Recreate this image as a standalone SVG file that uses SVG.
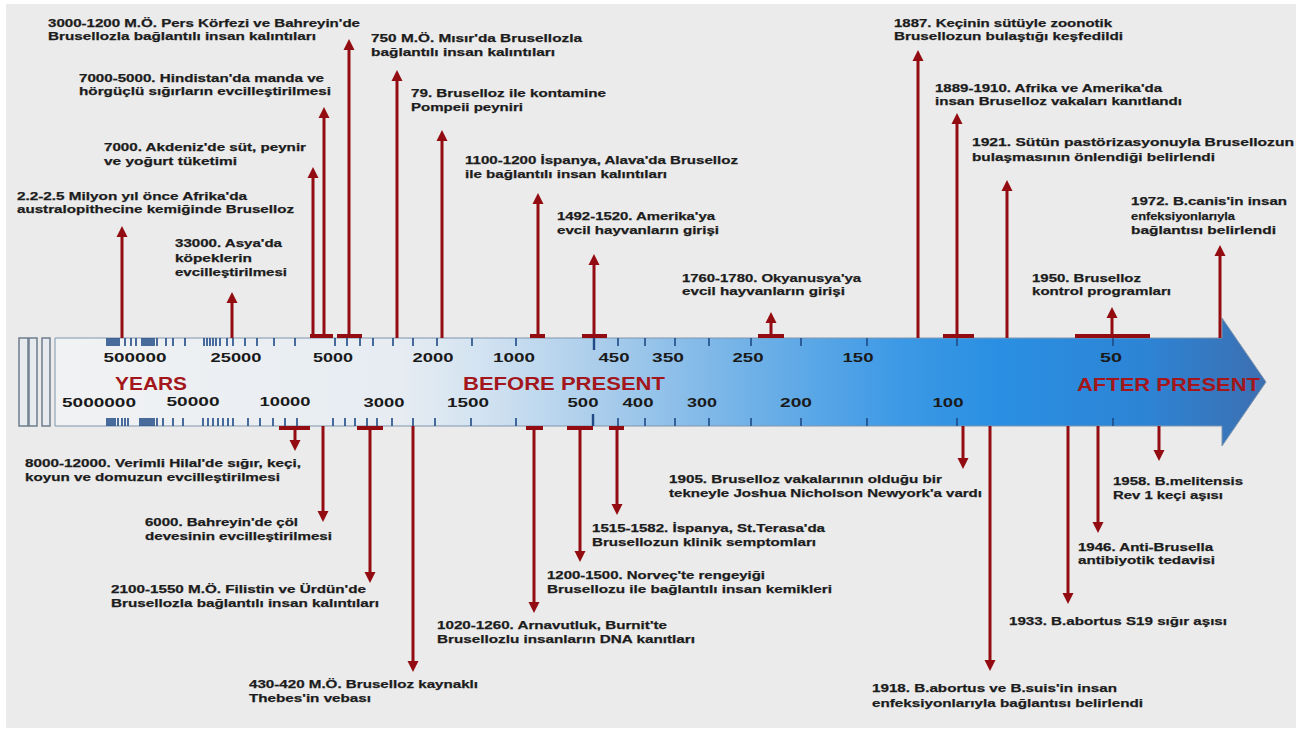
<svg xmlns="http://www.w3.org/2000/svg" width="1300" height="731" viewBox="0 0 1300 731">
<defs>
<style>
.lbl{font-family:"Liberation Sans",Arial,sans-serif;font-weight:bold;font-size:11.6px;fill:#1c1c1c;stroke:#1c1c1c;stroke-width:0.25}
.num{font-family:"Liberation Sans",Arial,sans-serif;font-weight:bold;font-size:12.8px;fill:#1a1a1a;text-anchor:middle}
.big{font-family:"Liberation Sans",Arial,sans-serif;font-weight:bold;font-size:18px;fill:#a3161c}
.arr{stroke:#930c11;stroke-width:3;fill:none;marker-end:url(#ah)}
.tb{stroke:#930c11;stroke-width:4}
.tick{stroke:#1f4a86;stroke-width:1.6}
.sr{fill:#e8ebee;stroke:#6d7d8d;stroke-width:1.5}
</style>
<linearGradient id="barg" gradientUnits="userSpaceOnUse" x1="55" y1="0" x2="1266" y2="0">
<stop offset="0" stop-color="#f1f2f3"/>
<stop offset="0.285" stop-color="#e6ecf2"/>
<stop offset="0.35" stop-color="#d3e3f1"/>
<stop offset="0.45" stop-color="#aacdeb"/>
<stop offset="0.574" stop-color="#70b1e7"/>
<stop offset="0.698" stop-color="#3c99e5"/>
<stop offset="0.78" stop-color="#2a8fe2"/>
<stop offset="0.9" stop-color="#2d84d5"/>
<stop offset="1" stop-color="#3d6fb0"/>
</linearGradient>
<marker id="ah" markerUnits="userSpaceOnUse" markerWidth="12" markerHeight="12" viewBox="0 0 12 12" refX="4" refY="6" orient="auto">
<path d="M0,0.5 L11,6 L0,11.5 z" fill="#930c11"/>
</marker>
</defs>
<rect x="0" y="0" width="1300" height="731" fill="#ffffff"/>
<rect x="6" y="4" width="1290" height="724" fill="#ebebeb"/>

<g id="timeline">
<rect class="sr" x="19" y="338" width="9" height="88"/>
<rect class="sr" x="29" y="338" width="8" height="88"/>
<rect class="sr" x="42" y="338" width="8" height="88"/>
<polygon points="55,338 1222,338 1222,318 1266,382 1222,446 1222,426 55,426" fill="url(#barg)" stroke="#7f95ad" stroke-width="1"/>
<g id="ticks-top" class="tick">
<path d="M107,338v8M109,338v8M111,338v8M113,338v8M115,338v8M117,338v8M119,338v8M125,338v8M131,338v8M136,338v8M142,338v8M144,338v8M146,338v8M148,338v8M150,338v8M152,338v8M154,338v8M157,338v8M166,338v8M173,338v8M185,338v8M204,338v8M207,338v8M210,338v8M213,338v8M216,338v8M220,338v8M227,338v8M233,338v8M245,338v8M257,338v8M274,338v8M295,338v8M335,338v8M347,338v8M360,338v8M373,338v8M393,338v8M413,338v8M437,338v8M472,338v8M516,338v8M618,338v8M645,338v8M675,338v8M709,338v8M751,338v8M801,338v8M867,338v8M957,338v8M1113,338v8"/>
<path d="M594,338v12" stroke-width="2.4"/>
</g>
<g id="ticks-bottom" class="tick">
<path d="M107,426v-8M109,426v-8M111,426v-8M113,426v-8M115,426v-8M118,426v-8M122,426v-8M125,426v-8M128,426v-8M140,426v-8M142,426v-8M144,426v-8M146,426v-8M148,426v-8M150,426v-8M152,426v-8M154,426v-8M157,426v-8M163,426v-8M173,426v-8M183,426v-8M203,426v-8M208,426v-8M213,426v-8M218,426v-8M223,426v-8M228,426v-8M233,426v-8M248,426v-8M260,426v-8M273,426v-8M285,426v-8M297,426v-8M333,426v-8M345,426v-8M355,426v-8M367,426v-8M377,426v-8M392,426v-8M413,426v-8M435,426v-8M471,426v-8M516,426v-8M618,426v-8M645,426v-8M675,426v-8M709,426v-8M751,426v-8M801,426v-8M867,426v-8M957,426v-8M1113,426v-8"/>
<path d="M593,426v-12" stroke-width="2.4"/>
</g>
<g id="scale-top">
<text class="num" x="135" y="362" textLength="63" lengthAdjust="spacingAndGlyphs">500000</text>
<text class="num" x="236" y="362" textLength="51" lengthAdjust="spacingAndGlyphs">25000</text>
<text class="num" x="333" y="362" textLength="40" lengthAdjust="spacingAndGlyphs">5000</text>
<text class="num" x="433" y="362" textLength="41" lengthAdjust="spacingAndGlyphs">2000</text>
<text class="num" x="514" y="362" textLength="42" lengthAdjust="spacingAndGlyphs">1000</text>
<text class="num" x="614" y="362" textLength="31" lengthAdjust="spacingAndGlyphs">450</text>
<text class="num" x="668" y="362" textLength="32" lengthAdjust="spacingAndGlyphs">350</text>
<text class="num" x="748" y="362" textLength="31" lengthAdjust="spacingAndGlyphs">250</text>
<text class="num" x="858" y="362" textLength="31" lengthAdjust="spacingAndGlyphs">150</text>
<text class="num" x="1111" y="362" textLength="22" lengthAdjust="spacingAndGlyphs">50</text>
</g>
<g id="scale-bottom">
<text class="num" x="99" y="407" textLength="74" lengthAdjust="spacingAndGlyphs">5000000</text>
<text class="num" x="193" y="406" textLength="53" lengthAdjust="spacingAndGlyphs">50000</text>
<text class="num" x="285" y="406" textLength="51" lengthAdjust="spacingAndGlyphs">10000</text>
<text class="num" x="384" y="407" textLength="41" lengthAdjust="spacingAndGlyphs">3000</text>
<text class="num" x="468" y="407" textLength="42" lengthAdjust="spacingAndGlyphs">1500</text>
<text class="num" x="583" y="407" textLength="31" lengthAdjust="spacingAndGlyphs">500</text>
<text class="num" x="638" y="407" textLength="31" lengthAdjust="spacingAndGlyphs">400</text>
<text class="num" x="702" y="407" textLength="30" lengthAdjust="spacingAndGlyphs">300</text>
<text class="num" x="796" y="407" textLength="32" lengthAdjust="spacingAndGlyphs">200</text>
<text class="num" x="948" y="407" textLength="31" lengthAdjust="spacingAndGlyphs">100</text>
</g>
<text class="big" x="115" y="390" textLength="72" lengthAdjust="spacingAndGlyphs">YEARS</text>
<text class="big" x="463" y="390" textLength="202" lengthAdjust="spacingAndGlyphs">BEFORE PRESENT</text>
<text class="big" x="1077" y="391" textLength="183" lengthAdjust="spacingAndGlyphs">AFTER PRESENT</text>
</g>

<g id="connectors">
<path class="tb" d="M310,336H333M337,336H362M530,336H545M582,336H607M758,336H784M943,336H974M1075,336H1150"/>
<path class="tb" d="M279,428H310M357,428H383M526,428H543M567,428H593M609,428H624"/>
<line class="arr" x1="122" y1="338" x2="122" y2="233"/>
<line class="arr" x1="232" y1="338" x2="232" y2="299"/>
<line class="arr" x1="313" y1="336" x2="313" y2="174"/>
<line class="arr" x1="324" y1="336" x2="324" y2="114"/>
<line class="arr" x1="349" y1="336" x2="349" y2="46"/>
<line class="arr" x1="397" y1="338" x2="397" y2="77"/>
<line class="arr" x1="442" y1="338" x2="442" y2="137"/>
<line class="arr" x1="538" y1="336" x2="538" y2="200"/>
<line class="arr" x1="594" y1="336" x2="594" y2="261"/>
<line class="arr" x1="771" y1="336" x2="771" y2="319"/>
<line class="arr" x1="918" y1="338" x2="918" y2="57"/>
<line class="arr" x1="957" y1="336" x2="957" y2="120"/>
<line class="arr" x1="1007" y1="338" x2="1007" y2="187"/>
<line class="arr" x1="1112" y1="336" x2="1112" y2="314"/>
<line class="arr" x1="1220" y1="338" x2="1220" y2="252"/>
<line class="arr" x1="295" y1="428" x2="295" y2="444"/>
<line class="arr" x1="323" y1="426" x2="323" y2="515"/>
<line class="arr" x1="370" y1="428" x2="370" y2="576"/>
<line class="arr" x1="413" y1="426" x2="413" y2="665"/>
<line class="arr" x1="534" y1="428" x2="534" y2="606"/>
<line class="arr" x1="580" y1="428" x2="580" y2="555"/>
<line class="arr" x1="617" y1="428" x2="617" y2="508"/>
<line class="arr" x1="963" y1="426" x2="963" y2="462"/>
<line class="arr" x1="990" y1="426" x2="990" y2="664"/>
<line class="arr" x1="1068" y1="426" x2="1068" y2="597"/>
<line class="arr" x1="1098" y1="426" x2="1098" y2="526"/>
<line class="arr" x1="1159" y1="426" x2="1159" y2="454"/>
</g>

<g id="ev-pers">
<text class="lbl" x="48" y="27" textLength="312" lengthAdjust="spacingAndGlyphs">3000-1200 M.Ö. Pers Körfezi ve Bahreyin'de</text>
<text class="lbl" x="48" y="40" textLength="268" lengthAdjust="spacingAndGlyphs">Brusellozla bağlantılı insan kalıntıları</text>
</g>
<g id="ev-misir">
<text class="lbl" x="371" y="42" textLength="211" lengthAdjust="spacingAndGlyphs">750 M.Ö. Mısır'da Brusellozla</text>
<text class="lbl" x="371" y="56" textLength="184" lengthAdjust="spacingAndGlyphs">bağlantılı insan kalıntıları</text>
</g>
<g id="ev-hindistan">
<text class="lbl" x="79" y="82" textLength="245" lengthAdjust="spacingAndGlyphs">7000-5000. Hindistan'da manda ve</text>
<text class="lbl" x="79" y="95" textLength="252" lengthAdjust="spacingAndGlyphs">hörgüçlü sığırların evcilleştirilmesi</text>
</g>
<g id="ev-pompeii">
<text class="lbl" x="411" y="97" textLength="195" lengthAdjust="spacingAndGlyphs">79. Bruselloz ile kontamine</text>
<text class="lbl" x="411" y="111" textLength="112" lengthAdjust="spacingAndGlyphs">Pompeii peyniri</text>
</g>
<g id="ev-akdeniz">
<text class="lbl" x="104" y="151" textLength="202" lengthAdjust="spacingAndGlyphs">7000. Akdeniz'de süt, peynir</text>
<text class="lbl" x="104" y="165" textLength="133" lengthAdjust="spacingAndGlyphs">ve yoğurt tüketimi</text>
</g>
<g id="ev-alava">
<text class="lbl" x="465" y="164" textLength="273" lengthAdjust="spacingAndGlyphs">1100-1200 İspanya, Alava'da Bruselloz</text>
<text class="lbl" x="465" y="178" textLength="202" lengthAdjust="spacingAndGlyphs">ile bağlantılı insan kalıntıları</text>
</g>
<g id="ev-afrika">
<text class="lbl" x="17" y="200" textLength="230" lengthAdjust="spacingAndGlyphs">2.2-2.5 Milyon yıl önce Afrika'da</text>
<text class="lbl" x="17" y="213" textLength="277" lengthAdjust="spacingAndGlyphs">australopithecine kemiğinde Bruselloz</text>
</g>
<g id="ev-amerika">
<text class="lbl" x="557" y="220" textLength="158" lengthAdjust="spacingAndGlyphs">1492-1520. Amerika'ya</text>
<text class="lbl" x="557" y="234" textLength="162" lengthAdjust="spacingAndGlyphs">evcil hayvanların girişi</text>
</g>
<g id="ev-asya">
<text class="lbl" x="175" y="247" textLength="107" lengthAdjust="spacingAndGlyphs">33000. Asya'da</text>
<text class="lbl" x="175" y="262" textLength="77" lengthAdjust="spacingAndGlyphs">köpeklerin</text>
<text class="lbl" x="175" y="276" textLength="112" lengthAdjust="spacingAndGlyphs">evcilleştirilmesi</text>
</g>
<g id="ev-okyanusya">
<text class="lbl" x="682" y="282" textLength="179" lengthAdjust="spacingAndGlyphs">1760-1780. Okyanusya'ya</text>
<text class="lbl" x="682" y="295" textLength="163" lengthAdjust="spacingAndGlyphs">evcil hayvanların girişi</text>
</g>
<g id="ev-1887">
<text class="lbl" x="894" y="27" textLength="218" lengthAdjust="spacingAndGlyphs">1887. Keçinin sütüyle zoonotik</text>
<text class="lbl" x="894" y="40" textLength="229" lengthAdjust="spacingAndGlyphs">Brusellozun bulaştığı keşfedildi</text>
</g>
<g id="ev-1889">
<text class="lbl" x="935" y="92" textLength="227" lengthAdjust="spacingAndGlyphs">1889-1910. Afrika ve Amerika'da</text>
<text class="lbl" x="935" y="105" textLength="247" lengthAdjust="spacingAndGlyphs">insan Bruselloz vakaları kanıtlandı</text>
</g>
<g id="ev-1921">
<text class="lbl" x="972" y="146" textLength="322" lengthAdjust="spacingAndGlyphs">1921. Sütün pastörizasyonuyla Brusellozun</text>
<text class="lbl" x="972" y="161" textLength="243" lengthAdjust="spacingAndGlyphs">bulaşmasının önlendiği belirlendi</text>
</g>
<g id="ev-1972">
<text class="lbl" x="1131" y="205" textLength="156" lengthAdjust="spacingAndGlyphs">1972. B.canis'in insan</text>
<text class="lbl" x="1131" y="220" textLength="104" lengthAdjust="spacingAndGlyphs">enfeksiyonlarıyla</text>
<text class="lbl" x="1131" y="234" textLength="145" lengthAdjust="spacingAndGlyphs">bağlantısı belirlendi</text>
</g>
<g id="ev-1950">
<text class="lbl" x="1032" y="282" textLength="109" lengthAdjust="spacingAndGlyphs">1950. Bruselloz</text>
<text class="lbl" x="1032" y="295" textLength="139" lengthAdjust="spacingAndGlyphs">kontrol programları</text>
</g>

<g id="ev-hilal">
<text class="lbl" x="25" y="467" textLength="276" lengthAdjust="spacingAndGlyphs">8000-12000. Verimli Hilal'de sığır, keçi,</text>
<text class="lbl" x="25" y="481" textLength="255" lengthAdjust="spacingAndGlyphs">koyun ve domuzun evcilleştirilmesi</text>
</g>
<g id="ev-bahreyin">
<text class="lbl" x="145" y="526" textLength="153" lengthAdjust="spacingAndGlyphs">6000. Bahreyin'de çöl</text>
<text class="lbl" x="145" y="540" textLength="187" lengthAdjust="spacingAndGlyphs">devesinin evcilleştirilmesi</text>
</g>
<g id="ev-filistin">
<text class="lbl" x="111" y="593" textLength="255" lengthAdjust="spacingAndGlyphs">2100-1550 M.Ö. Filistin ve Ürdün'de</text>
<text class="lbl" x="111" y="607" textLength="268" lengthAdjust="spacingAndGlyphs">Brusellozla bağlantılı insan kalıntıları</text>
</g>
<g id="ev-thebes">
<text class="lbl" x="249" y="688" textLength="229" lengthAdjust="spacingAndGlyphs">430-420 M.Ö. Bruselloz kaynaklı</text>
<text class="lbl" x="249" y="702" textLength="122" lengthAdjust="spacingAndGlyphs">Thebes'in vebası</text>
</g>
<g id="ev-arnavutluk">
<text class="lbl" x="437" y="629" textLength="230" lengthAdjust="spacingAndGlyphs">1020-1260. Arnavutluk, Burnit'te</text>
<text class="lbl" x="437" y="643" textLength="258" lengthAdjust="spacingAndGlyphs">Brusellozlu insanların DNA kanıtları</text>
</g>
<g id="ev-norvec">
<text class="lbl" x="547" y="579" textLength="218" lengthAdjust="spacingAndGlyphs">1200-1500. Norveç'te rengeyiği</text>
<text class="lbl" x="547" y="593" textLength="285" lengthAdjust="spacingAndGlyphs">Brusellozu ile bağlantılı insan kemikleri</text>
</g>
<g id="ev-terasa">
<text class="lbl" x="592" y="532" textLength="233" lengthAdjust="spacingAndGlyphs">1515-1582. İspanya, St.Terasa'da</text>
<text class="lbl" x="592" y="546" textLength="224" lengthAdjust="spacingAndGlyphs">Brusellozun klinik semptomları</text>
</g>
<g id="ev-1905">
<text class="lbl" x="669" y="483" textLength="273" lengthAdjust="spacingAndGlyphs">1905. Bruselloz vakalarının olduğu bir</text>
<text class="lbl" x="669" y="497" textLength="313" lengthAdjust="spacingAndGlyphs">tekneyle Joshua Nicholson Newyork'a vardı</text>
</g>
<g id="ev-1958">
<text class="lbl" x="1113" y="485" textLength="130" lengthAdjust="spacingAndGlyphs">1958. B.melitensis</text>
<text class="lbl" x="1113" y="499" textLength="110" lengthAdjust="spacingAndGlyphs">Rev 1 keçi aşısı</text>
</g>
<g id="ev-1946">
<text class="lbl" x="1078" y="551" textLength="135" lengthAdjust="spacingAndGlyphs">1946. Anti-Brusella</text>
<text class="lbl" x="1078" y="564" textLength="137" lengthAdjust="spacingAndGlyphs">antibiyotik tedavisi</text>
</g>
<g id="ev-1933">
<text class="lbl" x="1009" y="625" textLength="218" lengthAdjust="spacingAndGlyphs">1933. B.abortus S19 sığır aşısı</text>
</g>
<g id="ev-1918">
<text class="lbl" x="872" y="692" textLength="245" lengthAdjust="spacingAndGlyphs">1918. B.abortus ve B.suis'in insan</text>
<text class="lbl" x="872" y="707" textLength="271" lengthAdjust="spacingAndGlyphs">enfeksiyonlarıyla bağlantısı belirlendi</text>
</g>
</svg>
